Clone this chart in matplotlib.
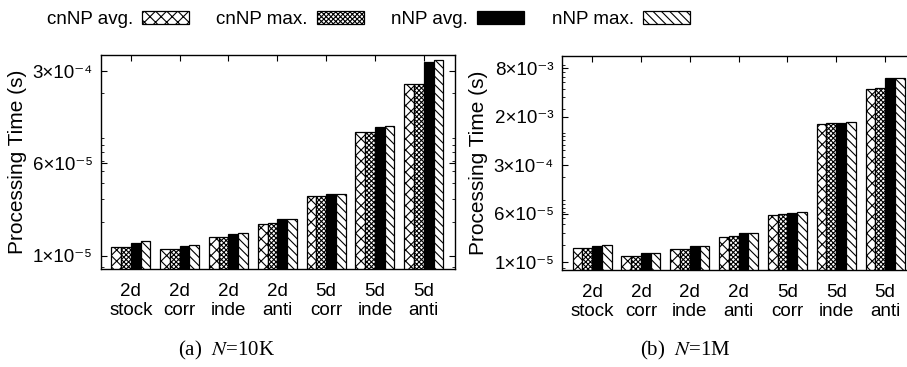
import numpy as np
import matplotlib
matplotlib.use('Agg')
import matplotlib.pyplot as plt
from matplotlib.ticker import LogLocator, NullFormatter, FixedLocator

plt.rcParams['font.family'] = ['Liberation Sans', 'DejaVu Sans']
plt.rcParams['mathtext.fontset'] = 'stix'
plt.rcParams['hatch.linewidth'] = 0.8
plt.rcParams['axes.linewidth'] = 1.0

categories = ['2d\nstock', '2d\ncorr', '2d\ninde', '2d\nanti', '5d\ncorr', '5d\ninde', '5d\nanti']
series_names = ['cnNP avg.', 'cnNP max.', 'nNP avg.', 'nNP max.']

# N=10K
cnnp_avg_10k = [1.29e-5, 1.23e-5, 1.53e-5, 1.95e-5, 3.19e-5, 1.00e-4, 2.36e-4]
cnnp_max_10k = [1.29e-5, 1.23e-5, 1.54e-5, 1.96e-5, 3.19e-5, 1.00e-4, 2.36e-4]
nnp_avg_10k = [1.37e-5, 1.31e-5, 1.63e-5, 2.12e-5, 3.29e-5, 1.10e-4, 3.50e-4]
nnp_max_10k = [1.42e-5, 1.33e-5, 1.64e-5, 2.13e-5, 3.31e-5, 1.12e-4, 3.61e-4]

# N=1M
cnnp_avg_1m = [1.77e-5, 1.36e-5, 1.73e-5, 2.56e-5, 5.49e-5, 1.22e-3, 3.99e-3]
cnnp_max_1m = [1.77e-5, 1.37e-5, 1.75e-5, 2.69e-5, 5.62e-5, 1.24e-3, 4.13e-3]
nnp_avg_1m = [1.92e-5, 1.49e-5, 1.90e-5, 2.95e-5, 5.88e-5, 1.27e-3, 5.70e-3]
nnp_max_1m = [1.98e-5, 1.52e-5, 1.94e-5, 3.01e-5, 6.02e-5, 1.30e-3, 5.84e-3]

# y tick positions / labels (gnuplot-style rounded mantissas)
yticks_10k = [1.1e-5, 5.72e-5, 2.97e-4]
ylabels_10k = ['1×10⁻⁵', '6×10⁻⁵', '3×10⁻⁴']
yticks_1m = [1.1e-5, 5.72e-5, 2.97e-4, 1.55e-3, 8.04e-3]
ylabels_1m = ['1×10⁻⁵', '6×10⁻⁵', '3×10⁻⁴', '2×10⁻³', '8×10⁻³']

styles = [dict(facecolor='white', hatch='xxx'),
          dict(facecolor='white', hatch='xxxxxxx'),
          dict(facecolor='black', hatch=None),
          dict(facecolor='white', hatch='\\\\\\\\')]

fig = plt.figure(figsize=(9.07, 3.67), dpi=100)
ax1 = fig.add_axes([0.1114, 0.267, 0.3903, 0.5831])
ax2 = fig.add_axes([0.620, 0.2643, 0.3903, 0.584])

x = np.arange(len(categories))
w = 0.2


def draw(ax, data, ylim, yt, yl):
    for i, (vals, st) in enumerate(zip(data, styles)):
        ax.bar(x + (i - 1.5) * w, vals, w, edgecolor='black', linewidth=0.9,
               label=series_names[i], **st)
    ax.set_yscale('log')
    ax.set_ylim(*ylim)
    ax.set_xlim(-0.61, 6.64)
    ax.yaxis.set_major_locator(FixedLocator(yt))
    ax.set_yticklabels(yl, fontsize=13.5)
    ax.yaxis.set_minor_locator(LogLocator(base=10, subs=np.arange(2, 10)))
    ax.yaxis.set_minor_formatter(NullFormatter())
    ax.set_xticks(x)
    ax.set_xticklabels(categories, fontsize=13.5, linespacing=1.2)
    ax.tick_params(which='both', direction='in', top=True, right=True)
    ax.tick_params(which='major', length=4, width=0.8)
    ax.tick_params(which='minor', length=2, width=0.6)
    ax.tick_params(axis='y', pad=6)
    ax.tick_params(axis='x', pad=10)
    ax.set_ylabel('Processing Time (s)', fontsize=15, labelpad=4)


draw(ax1, [cnnp_avg_10k, cnnp_max_10k, nnp_avg_10k, nnp_max_10k],
     (8.67e-6, 3.96e-4), yticks_10k, ylabels_10k)
draw(ax2, [cnnp_avg_1m, cnnp_max_1m, nnp_avg_1m, nnp_max_1m],
     (8.46e-6, 1.23e-2), yticks_1m, ylabels_1m)

# sub-figure captions, centred on each half of the figure
fig.text(0.250, 0.046, '(a)  $N$=10K', ha='center', va='center',
         fontsize=15, family='Liberation Serif')
fig.text(0.756, 0.046, '(b)  $N$=1M', ha='center', va='center',
         fontsize=15, family='Liberation Serif')

handles, labels = ax1.get_legend_handles_labels()
fig.legend(handles, labels, loc='center', bbox_to_anchor=(0.406, 0.947), ncol=4,
           frameon=False, markerfirst=False, fontsize=13.5, handlelength=2.5,
           handleheight=0.7, handletextpad=0.5, columnspacing=1.45)

fig.savefig('out.png', dpi=100)
